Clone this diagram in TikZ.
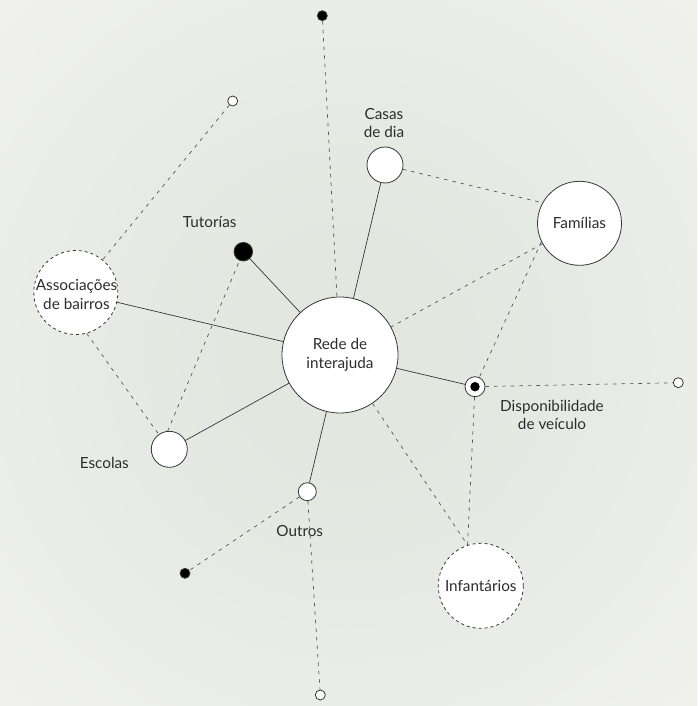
\documentclass[tikz,border=0pt]{standalone}
\usepackage{fontspec}
\setmainfont{Lato}
\usepackage{tikz}

\definecolor{bginner}{RGB}{226,231,224}
\definecolor{bgouter}{RGB}{246,245,242}
\definecolor{inkline}{RGB}{55,55,55}
\definecolor{inktext}{RGB}{45,45,45}
\pgfdeclareradialshading{glow}{\pgfpoint{0bp}{0bp}}{color(0bp)=(bginner); color(8bp)=(bginner); color(46bp)=(bgouter); color(80bp)=(bgouter)}

\begin{document}
\begin{tikzpicture}[x=1pt,y=-1pt,
      every node/.append style={inner sep=0pt,align=center,text=inktext,font=\fontsize{15.3}{18.5}\selectfont},
      hub/.style={circle,draw=inkline,fill=white,line width=0.8pt},
      ring/.style={hub,dash pattern=on 3pt off 3pt},
      pin/.style={circle,draw=inkline,fill=white,line width=0.8pt,minimum size=10pt},
      blackpin/.style={pin,fill=black},
      tie/.style={draw=inkline,line width=0.7pt},
      hint/.style={draw=inkline!85,line width=0.7pt,dash pattern=on 3.5pt off 5pt}]
    \shade[shading=glow] (0,0) rectangle (697,706);
    \useasboundingbox (0,0) rectangle (697,706);

    \node (REDE) [hub,minimum size=116pt] at (340,355) {Rede de\\interajuda};
    \node (familias) [hub,minimum size=84pt] at (579.5,223.3) {Famílias};
    \node (casas) [hub,minimum size=36pt] at (385,165) {};
    \node (escolas) [hub,minimum size=36pt] at (169.3,449.3) {};
    \node (outros) [hub,minimum size=18pt] at (307.3,491.7) {};
    \node (assoc) [ring,minimum size=84pt] at (75.8,292.5) {};
    \node (infantarios) [ring,minimum size=85pt] at (480.8,585.8) {Infantários};
    \node (tutorias) [blackpin,minimum size=18.6pt] at (243.3,251.7) {};
    \node (veiculo) [pin,minimum size=20pt,
      path picture={\fill[black] (path picture bounding box.center) circle (4.7pt);}] at (475,386.7) {};
    \node (topo) [blackpin] at (322.3,15.7) {};
    \node (noroeste) [pin] at (232.7,101) {};
    \node (leste) [pin] at (678.3,382.7) {};
    \node (sudoeste) [blackpin] at (185,573.3) {};
    \node (sul) [pin] at (320.3,695) {};

    \node (assoctxt) at (76.5,294.5) {Associações\\de bairros};
    \node (casastxt) at (384,123) {Casas\\de dia};
    \node (tutoriastxt) at (209.7,222) {Tutorías};
    \node (veiculotxt) at (552,415) {Disponibilidade\\de veículo};
    \node (escolastxt) at (104.3,463) {Escolas};
    \node (outrostxt) at (299.7,531) {Outros};

    \draw[tie] (REDE) -- (tutorias);
    \draw[tie] (REDE) -- (assoc);
    \draw[tie] (REDE) -- (escolas);
    \draw[tie] (REDE) -- (outros);
    \draw[tie] (REDE) -- (casas);
    \draw[tie] (REDE) -- (veiculo);

    \draw[hint] (topo) -- (REDE);
    \draw[hint] (noroeste) -- (assoc);
    \draw[hint] (assoc.285) -- (escolas);
    \draw[hint] (escolas.95) -- (tutorias);
    \draw[hint] (casas) -- (familias.151);
    \draw[hint] (familias) -- (REDE);
    \draw[hint] (familias.206) -- (veiculo);
    \draw[hint] (veiculo) -- (leste);
    \draw[hint] (veiculo) -- (infantarios.108);
    \draw[hint] (REDE) -- (infantarios.108);
    \draw[hint] (outros) -- (sudoeste);
    \draw[hint] (outros) -- (sul);
\end{tikzpicture}
\end{document}
